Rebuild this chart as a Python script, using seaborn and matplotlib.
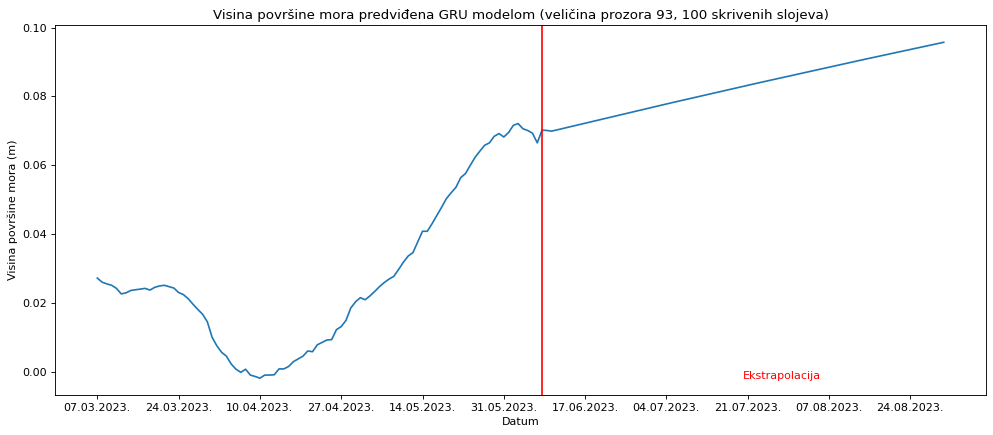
import matplotlib
matplotlib.use("Agg")
import matplotlib.pyplot as plt
import seaborn as sns
import pandas as pd
import numpy as np

start_date = "2023-03-07"

# measured sea level (daily, 07.03.2023 - 07.06.2023)
history = [
    0.0272, 0.0260, 0.0255, 0.0251, 0.0242, 0.0226, 0.0229, 0.0236, 0.0238, 0.0240,
    0.0242, 0.0237, 0.0245, 0.0249, 0.0251, 0.0247, 0.0243, 0.0230, 0.0224, 0.0212,
    0.0196, 0.0181, 0.0167, 0.0145, 0.0100, 0.0075, 0.0056, 0.0045, 0.0022, 0.0007,
    -0.0002, 0.0007, -0.0010, -0.0014, -0.0019, -0.0010, -0.0010, -0.0009, 0.0008, 0.0008,
    0.0015, 0.0029, 0.0037, 0.0045, 0.0060, 0.0058, 0.0078, 0.0085, 0.0092, 0.0093,
    0.0122, 0.0131, 0.0149, 0.0185, 0.0203, 0.0215, 0.0209, 0.0220, 0.0233, 0.0247,
    0.0259, 0.0269, 0.0277, 0.0297, 0.0318, 0.0336, 0.0346, 0.0377, 0.0408, 0.0408,
    0.0430, 0.0454, 0.0478, 0.0503, 0.0520, 0.0536, 0.0564, 0.0576, 0.0600, 0.0623,
    0.0641, 0.0658, 0.0665, 0.0684, 0.0692, 0.0682, 0.0695, 0.0716, 0.0721, 0.0706,
    0.0701, 0.0693, 0.0665,
]

# GRU extrapolation (daily, 08.06.2023 - 31.08.2023)
extrapolation = [
    0.07020, 0.07010,
    0.06990, 0.07023, 0.07057, 0.07090, 0.07123, 0.07156, 0.07190, 0.07223, 0.07256, 0.07289,
    0.07323, 0.07355, 0.07388, 0.07421, 0.07454, 0.07486, 0.07519, 0.07552, 0.07585, 0.07617,
    0.07650, 0.07682, 0.07715, 0.07747, 0.07779, 0.07812, 0.07844, 0.07876, 0.07909, 0.07941,
    0.07973, 0.08005, 0.08037, 0.08068, 0.08100, 0.08132, 0.08164, 0.08196, 0.08227, 0.08259,
    0.08291, 0.08322, 0.08354, 0.08385, 0.08416, 0.08447, 0.08479, 0.08510, 0.08541, 0.08573,
    0.08604, 0.08635, 0.08666, 0.08696, 0.08727, 0.08758, 0.08789, 0.08820, 0.08850, 0.08881,
    0.08912, 0.08942, 0.08973, 0.09003, 0.09033, 0.09064, 0.09094, 0.09124, 0.09155, 0.09185,
    0.09215, 0.09245, 0.09275, 0.09305, 0.09335, 0.09365, 0.09394, 0.09424, 0.09454, 0.09484,
    0.09514, 0.09543, 0.09573,
]

tick_labels = ["07.03.2023.", "24.03.2023.", "10.04.2023.", "27.04.2023.", "14.05.2023.",
               "31.05.2023.", "17.06.2023.", "04.07.2023.", "21.07.2023.", "07.08.2023.",
               "24.08.2023."]

title = "Visina površine mora predviđena GRU modelom (veličina prozora 93, 100 skrivenih slojeva)"
xlabel = "Datum"
ylabel = "Visina površine mora (m)"
annot_text = "Ekstrapolacija"

values = history + extrapolation
dates = pd.date_range(start_date, periods=len(values), freq="D")
df = pd.DataFrame({"Datum": dates, "value": values})

fig = plt.figure(figsize=(993 / 80, 435 / 80), dpi=80)
ax = fig.add_axes([0.0554, 0.092, 0.9376, 0.8494])

sns.lineplot(data=df, x="Datum", y="value", ax=ax, color="#1f77b4", linewidth=1.5)

split_date = dates[len(history)]
ax.axvline(split_date, color="red", linewidth=1.5)

mid_date = dates[len(history) + len(extrapolation) // 2]
ax.text(mid_date, -0.0022, annot_text, color="red")

tick_pos = pd.to_datetime(tick_labels, format="%d.%m.%Y.")
ax.set_xticks(tick_pos)
ax.set_xticklabels(tick_labels)
ax.set_yticks([0.00, 0.02, 0.04, 0.06, 0.08, 0.10])
ax.set_yticklabels(["0.00", "0.02", "0.04", "0.06", "0.08", "0.10"])

ax.set_title(title)
ax.set_xlabel(xlabel)
ax.set_ylabel(ylabel)

fig.savefig("out.png", dpi=80)
